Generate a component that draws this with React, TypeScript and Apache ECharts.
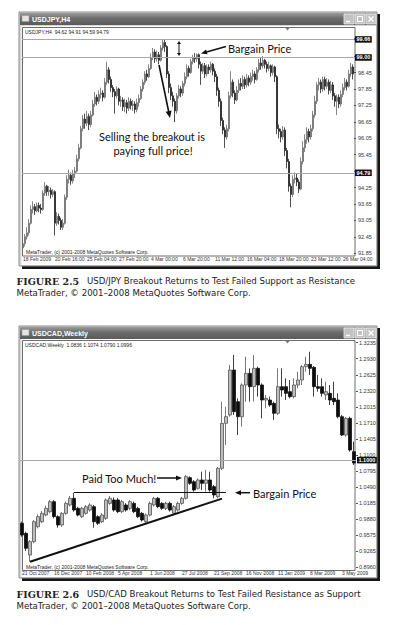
import React, { useEffect, useRef } from 'react';
import * as echarts from 'echarts';

// ---------- USD/JPY H4 ----------
const jpyDateLabels = ['18 Feb 2009', '20 Feb 16:00', '25 Feb 04:00', '27 Feb 20:00', '4 Mar 00:00', '6 Mar 20:00', '11 Mar 12:00', '16 Mar 04:00', '18 Mar 20:00', '23 Mar 12:00', '26 Mar 04:00'];
const jpyTickLabels = ['91.85', '92.45', '93.05', '93.65', '94.25', '94.85', '95.45', '96.05', '96.65', '97.25', '97.85', '98.45', '99.05', '99.65'];
// tick labels hidden behind the price boxes
const jpyCoveredTicks = ['94.85', '99.05', '99.65'];
const jpyLevels = [99.66, 99.0, 94.79];
// [open, close, low, high]
const jpyCandles = [
  [92.05, 92.2, 91.95, 92.3], [92.2, 92.45, 92.1, 92.55], [92.45, 92.6, 92.35, 92.8], [92.6, 92.95, 92.5, 93.1],
  [92.95, 93.45, 92.9, 93.6], [93.45, 93.55, 93.3, 93.75], [93.55, 93.4, 93.25, 93.65], [93.4, 93.6, 93.35, 93.7],
  [93.6, 93.5, 93.35, 93.7], [93.5, 93.45, 93.3, 93.65], [93.45, 94.05, 93.4, 94.15], [94.05, 94.3, 93.95, 94.45],
  [94.3, 94.1, 93.95, 94.35], [94.1, 94.15, 93.95, 94.3], [94.15, 94.0, 93.85, 94.25], [94.0, 94.1, 93.9, 94.2],
  [94.1, 92.95, 92.5, 94.15], [92.95, 93.2, 92.85, 93.35], [93.2, 93.05, 92.9, 93.3], [93.05, 92.8, 92.7, 93.15],
  [92.8, 92.95, 92.7, 93.1], [92.95, 93.9, 92.9, 94.0], [93.9, 94.55, 93.8, 94.7], [94.55, 94.7, 94.4, 94.9],
  [94.7, 94.5, 94.35, 94.8], [94.5, 94.75, 94.4, 94.9], [94.75, 94.85, 94.6, 95.0], [94.85, 95.3, 94.8, 95.45],
  [95.3, 95.7, 95.2, 95.85], [95.7, 96.4, 95.65, 96.5], [96.4, 96.75, 96.3, 96.9], [96.75, 96.6, 96.4, 96.95],
  [96.6, 96.85, 96.5, 97.05], [96.85, 96.55, 96.35, 96.95], [96.55, 96.9, 96.45, 97.05], [96.9, 97.3, 96.85, 97.45],
  [97.3, 97.55, 97.2, 97.75], [97.55, 97.4, 97.25, 97.65], [97.4, 97.65, 97.3, 97.8], [97.65, 97.7, 97.5, 97.9],
  [97.7, 97.55, 97.4, 97.8], [97.55, 98.1, 97.5, 98.25], [98.1, 98.55, 98.0, 98.85], [98.55, 98.2, 98.05, 98.65],
  [98.2, 97.9, 97.75, 98.3], [97.9, 97.75, 97.55, 98.0], [97.75, 97.6, 96.95, 97.85], [97.6, 97.85, 97.5, 97.95],
  [97.85, 97.4, 97.25, 97.9], [97.4, 97.45, 97.2, 97.6], [97.45, 97.2, 97.05, 97.55], [97.2, 97.35, 97.0, 97.5],
  [97.35, 97.15, 96.95, 97.45], [97.15, 97.4, 97.05, 97.55], [97.4, 97.25, 97.1, 97.5], [97.25, 97.3, 97.05, 97.45],
  [97.3, 97.1, 96.95, 97.4], [97.1, 97.35, 97.0, 97.5], [97.35, 97.5, 97.2, 97.65], [97.5, 97.85, 97.45, 97.95],
  [97.85, 98.1, 97.75, 98.2], [98.1, 98.4, 98.0, 98.5], [98.4, 98.3, 98.15, 98.55], [98.3, 98.6, 98.25, 98.75],
  [98.6, 99.0, 98.55, 99.15], [99.0, 99.2, 98.9, 99.35], [99.2, 98.95, 98.8, 99.3], [98.95, 99.1, 98.85, 99.25],
  [99.1, 98.9, 98.75, 99.2], [98.9, 99.35, 98.85, 99.45], [99.35, 99.55, 99.25, 99.66], [99.55, 99.4, 99.2, 99.64],
  [99.4, 98.4, 98.25, 99.45], [98.4, 97.9, 97.7, 98.5], [97.9, 97.6, 97.45, 98.05], [97.6, 97.4, 97.2, 97.75],
  [97.4, 97.05, 96.64, 97.5], [97.05, 97.6, 96.95, 97.7], [97.6, 97.85, 97.5, 98.0], [97.85, 97.7, 97.55, 97.95],
  [97.7, 98.05, 97.6, 98.15], [98.05, 98.3, 97.95, 98.45], [98.3, 98.6, 98.2, 98.75], [98.6, 98.45, 98.3, 98.7],
  [98.45, 98.85, 98.4, 98.95], [98.85, 99.0, 98.75, 99.1], [99.0, 98.95, 98.8, 99.16], [98.95, 99.1, 98.85, 99.15],
  [99.1, 98.75, 98.6, 99.15], [98.75, 98.5, 98.0, 98.85], [98.5, 98.7, 98.4, 98.8], [98.7, 98.4, 98.25, 98.8],
  [98.4, 98.65, 98.3, 98.75], [98.65, 98.55, 98.4, 98.75], [98.55, 98.75, 98.45, 98.85], [98.75, 98.5, 98.35, 98.8],
  [98.5, 98.3, 98.1, 98.6], [98.3, 97.8, 97.6, 98.4], [97.8, 97.4, 97.2, 97.9], [97.4, 96.7, 96.5, 97.5],
  [96.7, 96.35, 96.2, 96.8], [96.35, 96.1, 95.7, 96.45], [96.1, 96.4, 96.0, 96.55], [96.4, 97.6, 96.3, 97.75],
  [97.6, 98.1, 97.5, 98.5], [98.1, 97.7, 97.55, 98.2], [97.7, 97.45, 97.3, 97.8], [97.45, 97.8, 97.4, 97.95],
  [97.8, 98.05, 97.7, 98.2], [98.05, 97.95, 97.8, 98.25], [97.95, 98.2, 97.85, 98.35], [98.2, 98.0, 97.85, 98.3],
  [98.0, 98.25, 97.9, 98.4], [98.25, 98.1, 97.95, 98.35], [98.1, 98.3, 98.0, 98.45], [98.3, 98.4, 98.15, 98.55],
  [98.4, 98.2, 98.05, 98.5], [98.2, 98.55, 98.15, 98.65], [98.55, 98.8, 98.45, 98.95], [98.8, 98.7, 98.55, 99.0],
  [98.7, 98.9, 98.6, 99.05], [98.9, 98.75, 98.6, 98.95], [98.75, 98.6, 98.45, 98.85], [98.6, 98.7, 98.5, 98.85],
  [98.7, 98.45, 98.3, 98.75], [98.45, 98.65, 98.35, 98.75], [98.65, 98.3, 98.1, 98.7], [98.3, 96.4, 96.2, 98.35],
  [96.4, 96.3, 96.05, 96.55], [96.3, 96.1, 95.9, 96.4], [96.1, 96.35, 96.0, 96.5], [96.35, 95.6, 95.4, 96.45],
  [95.6, 95.2, 94.95, 95.7], [95.2, 94.3, 94.1, 95.3], [94.3, 94.0, 93.53, 94.4], [94.0, 94.55, 93.9, 94.7],
  [94.55, 94.6, 94.4, 94.8], [94.6, 94.45, 94.3, 94.75], [94.45, 94.2, 94.05, 94.55], [94.2, 95.2, 94.15, 95.35],
  [95.2, 95.7, 95.1, 95.95], [95.7, 96.0, 95.55, 96.2], [96.0, 96.3, 95.85, 96.45], [96.3, 96.1, 95.9, 96.4],
  [96.1, 96.4, 96.0, 96.55], [96.4, 96.9, 96.3, 97.05], [96.9, 97.4, 96.8, 97.6], [97.4, 98.0, 97.3, 98.1],
  [98.0, 98.1, 97.8, 98.25], [98.1, 97.85, 97.7, 98.2], [97.85, 98.2, 97.75, 98.3], [98.2, 97.95, 97.8, 98.3],
  [97.95, 98.1, 97.85, 98.25], [98.1, 97.8, 97.65, 98.2], [97.8, 98.0, 97.7, 98.15], [98.0, 97.6, 97.45, 98.1],
  [97.6, 97.4, 97.2, 97.7], [97.4, 97.55, 96.9, 97.65], [97.55, 97.3, 97.15, 97.65], [97.3, 97.65, 97.2, 97.8],
  [97.65, 97.9, 97.55, 98.05], [97.9, 98.1, 97.8, 98.25], [98.1, 97.95, 97.8, 98.2], [97.95, 98.4, 97.9, 98.55],
  [98.4, 98.65, 98.3, 98.8], [98.65, 98.4, 98.2, 98.75],
];

// ---------- USD/CAD Weekly ----------
const cadDateLabels = ['21 Oct 2007', '16 Dec 2007', '10 Feb 2008', '5 Apr 2008', '1 Jun 2008', '27 Jul 2008', '21 Sep 2008', '16 Nov 2008', '11 Jan 2009', '8 Mar 2009', '3 May 2009'];
const cadTickLabels = ['0.8960', '0.9265', '0.9575', '0.9880', '1.0185', '1.0490', '1.0795', '1.1100', '1.1405', '1.1710', '1.2015', '1.2320', '1.2625', '1.2930', '1.3235'];
const cadBid = 1.0996;
const cadBargainLine = [[13, 1.038], [51, 1.038]];
const cadTrendLine = [[2, 0.9067], [50, 1.0268]];
const cadCandles = [
  [0.9797, 0.9575, 0.9543, 0.9828], [0.9606, 0.9321, 0.927, 0.9638], [0.9194, 0.9448, 0.9067, 0.948], [0.9448, 0.9828, 0.9416, 0.986],
  [0.9733, 0.9924, 0.97, 0.9968], [0.9828, 0.9987, 0.98, 1.0032], [0.9955, 1.0082, 0.993, 1.0133], [1.0019, 1.0209, 0.9987, 1.0241],
  [1.0209, 0.9924, 0.9892, 1.0241], [0.9924, 0.9765, 0.9714, 0.995], [0.9765, 0.9987, 0.973, 1.001], [0.9987, 1.0177, 0.996, 1.021],
  [1.0146, 1.0273, 1.012, 1.0317], [1.0273, 1.005, 1.0019, 1.0381], [1.0082, 0.9955, 0.993, 1.011], [0.9924, 1.0082, 0.9895, 1.011],
  [0.9987, 1.0114, 0.996, 1.0145], [1.005, 1.0146, 1.002, 1.018], [1.0114, 0.9828, 0.9714, 1.0146], [0.9924, 0.9797, 0.9765, 0.995],
  [0.9828, 0.9955, 0.98, 0.999], [0.9892, 1.0241, 0.986, 1.0273], [1.0177, 1.0273, 1.015, 1.0317], [1.0241, 1.005, 1.002, 1.029],
  [1.0241, 1.0019, 0.999, 1.028], [1.0019, 1.0209, 0.999, 1.024], [1.0146, 1.005, 1.002, 1.018], [1.0082, 1.0209, 1.005, 1.024],
  [1.0177, 1.0019, 0.999, 1.021], [1.0082, 0.9924, 0.9895, 1.011], [0.9987, 0.986, 0.983, 1.0015], [0.9828, 0.9955, 0.98, 0.9985],
  [0.9955, 1.0177, 0.993, 1.021], [1.0146, 1.0273, 1.0115, 1.03], [1.0273, 1.0114, 1.0085, 1.03], [1.0177, 1.0082, 1.005, 1.02],
  [1.0082, 1.0177, 1.005, 1.021], [1.0177, 1.005, 1.002, 1.021], [0.9987, 1.0114, 0.996, 1.0145], [1.005, 1.0177, 1.002, 1.021],
  [1.0177, 1.0273, 1.015, 1.03], [1.0273, 1.0685, 1.025, 1.0717], [1.0666, 1.0558, 1.053, 1.069], [1.059, 1.0431, 1.04, 1.062],
  [1.0463, 1.0622, 1.044, 1.065], [1.0622, 1.0558, 1.0431, 1.078], [1.0558, 1.0622, 1.0399, 1.0812], [1.0622, 1.0431, 1.04, 1.078],
  [1.0495, 1.0336, 1.0273, 1.0527], [1.0304, 1.0844, 1.0273, 1.087], [1.0844, 1.17, 1.0812, 1.2113], [1.17, 1.1827, 1.1288, 1.2017],
  [1.1859, 1.2715, 1.1827, 1.2811], [1.2715, 1.1922, 1.1859, 1.3001], [1.2113, 1.1827, 1.1478, 1.2176], [1.1827, 1.243, 1.1637, 1.246],
  [1.243, 1.2652, 1.2113, 1.2969], [1.2652, 1.2398, 1.2113, 1.2747], [1.2398, 1.2747, 1.2113, 1.3001], [1.2747, 1.243, 1.2208, 1.278],
  [1.243, 1.2144, 1.1795, 1.246], [1.2144, 1.2176, 1.1986, 1.224], [1.2144, 1.2049, 1.2017, 1.2208], [1.2081, 1.1891, 1.1764, 1.2113],
  [1.1891, 1.2398, 1.1859, 1.2747], [1.2398, 1.2335, 1.2208, 1.2747], [1.2398, 1.2271, 1.2144, 1.2557], [1.2303, 1.2208, 1.2176, 1.2525],
  [1.2208, 1.243, 1.2176, 1.2557], [1.243, 1.2525, 1.2366, 1.2684], [1.2525, 1.2779, 1.243, 1.2811], [1.2779, 1.2823, 1.2684, 1.2969],
  [1.2823, 1.2747, 1.262, 1.3064], [1.2766, 1.2398, 1.2208, 1.279], [1.2398, 1.2366, 1.2303, 1.262], [1.2398, 1.2271, 1.2208, 1.2557],
  [1.224, 1.2303, 1.2144, 1.2493], [1.2271, 1.2144, 1.2049, 1.243], [1.2176, 1.2113, 1.2049, 1.2493], [1.2144, 1.1827, 1.1795, 1.2271],
  [1.1827, 1.1478, 1.146, 1.1859], [1.1478, 1.1795, 1.1446, 1.182], [1.1795, 1.1193, 1.1161, 1.1827], [1.1161, 1.0945, 1.0907, 1.1351],
];

const INK = '#111';
const SMALL = 'Liberation Sans';

function arrow(x1: number, y1: number, x2: number, y2: number, lw: number, len: number, half: number, both = false): any[] {
  const dx = x2 - x1, dy = y2 - y1;
  const d = Math.sqrt(dx * dx + dy * dy);
  const ux = dx / d, uy = dy / d;
  const px = -uy, py = ux;
  const head = (tx: number, ty: number, sx: number, sy: number) => ({
    type: 'polygon', z: 50,
    shape: { points: [[tx, ty], [tx - sx * len + px * half, ty - sy * len + py * half], [tx - sx * len - px * half, ty - sy * len - py * half]] },
    style: { fill: INK },
  });
  const els: any[] = [
    { type: 'line', z: 50, shape: { x1: both ? x1 + ux * len * 0.8 : x1, y1: both ? y1 + uy * len * 0.8 : y1, x2: x2 - ux * len * 0.8, y2: y2 - uy * len * 0.8 }, style: { stroke: INK, lineWidth: lw } },
    head(x2, y2, ux, uy),
  ];
  if (both) els.push(head(x1, y1, -ux, -uy));
  return els;
}

function txt(x: number, y: number, text: string, font: string, fill = INK, align = 'left'): any {
  return { type: 'text', z: 50, x, y, style: { text, font, fill, textAlign: align, textVerticalAlign: 'middle' } };
}

function windowEls(y0: number, y1: number, plotTop: number, plotBottom: number, title: string, header: string): any[] {
  const x0 = 19, x1 = 377;
  const bx = [344, 355, 366];
  const by = y0 + 2;
  return [
    { type: 'rect', z: -20, shape: { x: x0 + 3, y: y0 + 2, width: x1 - x0, height: y1 - y0 + 1 }, style: { fill: '#161616' } },
    { type: 'rect', z: -19, shape: { x: x0, y: y0, width: x1 - x0, height: y1 - y0 }, style: { fill: '#d8d8d8', stroke: '#8c8c8c', lineWidth: 1 } },
    {
      type: 'rect', z: -18, shape: { x: x0 + 1, y: y0 + 1, width: x1 - x0 - 2, height: 12 },
      style: { fill: new echarts.graphic.LinearGradient(0, 0, 0, 1, [{ offset: 0, color: '#9a9a9a' }, { offset: 0.45, color: '#6c6c6c' }, { offset: 1, color: '#5a5a5a' }]) },
    },
    { type: 'rect', z: -18, shape: { x: 21.5, y: plotTop - 1, width: x1 - 22.5, height: y1 - plotTop }, style: { fill: '#ffffff' } },
    { type: 'rect', z: -17, shape: { x: 22.5, y: plotTop + 0.5, width: 332.5, height: plotBottom - plotTop }, style: { fill: 'none', stroke: '#6e6e6e', lineWidth: 1 } },
    { type: 'rect', z: -16, shape: { x: 22, y: y0 + 3.5, width: 7, height: 6 }, style: { fill: '#e4e4e4', stroke: '#9a9a9a', lineWidth: 0.6 } },
    { type: 'text', z: -16, x: 32, y: y0 + 7, style: { text: title, font: 'bold 7px ' + SMALL, fill: '#ffffff', textVerticalAlign: 'middle' } },
    ...bx.map((x) => ({ type: 'rect', z: -16, shape: { x, y: by, width: 10, height: 10 }, style: { fill: '#c2c2c2', stroke: '#eeeeee', lineWidth: 0.8 } })),
    { type: 'line', z: -15, shape: { x1: bx[0] + 2, y1: by + 7.5, x2: bx[0] + 6, y2: by + 7.5 }, style: { stroke: '#fff', lineWidth: 1.5 } },
    { type: 'rect', z: -15, shape: { x: bx[1] + 2.5, y: by + 2.5, width: 5, height: 5 }, style: { fill: 'none', stroke: '#fff', lineWidth: 1 } },
    { type: 'line', z: -15, shape: { x1: bx[2] + 2.5, y1: by + 2.5, x2: bx[2] + 7.5, y2: by + 7.5 }, style: { stroke: '#fff', lineWidth: 1.5 } },
    { type: 'line', z: -15, shape: { x1: bx[2] + 7.5, y1: by + 2.5, x2: bx[2] + 2.5, y2: by + 7.5 }, style: { stroke: '#fff', lineWidth: 1.5 } },
    { type: 'text', z: -15, x: 25, y: plotTop + 4.5, style: { text: header, font: '5px ' + SMALL, fill: '#222', textVerticalAlign: 'middle' } },
    { type: 'text', z: -15, x: 26, y: plotBottom - 3.5, style: { text: 'MetaTrader, (c) 2001-2008 MetaQuotes Software Corp.', font: '5px ' + SMALL, fill: '#222', textVerticalAlign: 'middle' } },
    { type: 'polygon', z: -15, shape: { points: [[285.5, plotTop + 1], [289.5, plotTop + 1], [287.5, plotTop + 3.5]] }, style: { fill: '#777' } },
  ];
}

const ANN = '11px Lato';
const CAP = '8.6px DejaVu Sans';
const FIG = 'bold 9.5px DejaVu Serif';

function tickFormatter(labels: string[], min: number, step: number, skip: string[] = []) {
  return (v: number) => {
    const k = (v - min) / step;
    const r = Math.round(k);
    if (Math.abs(k - r) > 0.02) return '';
    const s = labels[r] ?? '';
    return skip.includes(s) ? '' : s;
  };
}

export default function App() {
  const ref = useRef<HTMLDivElement>(null);
  useEffect(() => {
    if (!ref.current) return;
    const chart = echarts.init(ref.current, undefined, { renderer: 'svg' });
    const jpyCats = jpyCandles.map((_, i) => String(i));
    const cadCats = cadCandles.map((_, i) => String(i));
    const axisLabelBase = { fontSize: 5.5, fontFamily: SMALL, color: '#333', lineHeight: 5 };
    const boxLabel = (digits: number) => ({
      show: true, position: 'end', distance: 1, formatter: (p: any) => Number(p.value).toFixed(digits),
      backgroundColor: '#111', color: '#fff', fontSize: 5.5, lineHeight: 5.5, fontFamily: SMALL, fontWeight: 'bold', padding: [0.5, 1.5],
    });

    const option: any = {
      animation: false,
      grid: [
        { left: 22, top: 38.33, width: 332, height: 214.97 },
        { left: 20, top: 342.7, width: 336, height: 224.6 },
      ],
      xAxis: [
        {
          type: 'category', gridIndex: 0, data: jpyCats, boundaryGap: true,
          axisLine: { show: false }, axisTick: { show: false }, splitLine: { show: false },
          axisLabel: { ...axisLabelBase, fontSize: 5, interval: 15, align: 'left', margin: 3.5, formatter: (_v: any, i: number) => jpyDateLabels[i / 16] ?? '' },
        },
        {
          type: 'category', gridIndex: 1, data: cadCats, boundaryGap: true,
          axisLine: { show: false }, axisTick: { show: false }, splitLine: { show: false },
          axisLabel: { ...axisLabelBase, fontSize: 5, interval: 7, align: 'left', margin: 3.5, formatter: (_v: any, i: number) => cadDateLabels[i / 8] ?? '' },
        },
      ],
      yAxis: [
        {
          type: 'value', gridIndex: 0, position: 'right', min: 91.85, max: 99.7, interval: 0.6, scale: true,
          axisLine: { show: false }, splitLine: { show: false },
          axisTick: { show: true, length: 2, lineStyle: { color: '#555' } },
          axisLabel: { ...axisLabelBase, margin: 4, formatter: tickFormatter(jpyTickLabels, 91.85, 0.6, jpyCoveredTicks) },
        },
        {
          type: 'value', gridIndex: 1, position: 'right', min: 0.896, max: 1.3235, interval: 0.0305357, scale: true,
          axisLine: { show: false }, splitLine: { show: false },
          axisTick: { show: true, length: 2, lineStyle: { color: '#555' } },
          axisLabel: { ...axisLabelBase, margin: 3, formatter: tickFormatter(cadTickLabels, 0.896, 0.0305357) },
        },
      ],
      series: [
        {
          type: 'candlestick', xAxisIndex: 0, yAxisIndex: 0, data: jpyCandles, barWidth: 1.6,
          itemStyle: { color: '#9a9a9a', color0: '#0d0d0d', borderColor: '#6a6a6a', borderColor0: '#222', borderWidth: 0.8 },
          markLine: {
            silent: true, symbol: ['none', 'none'], animation: false,
            lineStyle: { color: '#a8a8a8', width: 1, type: 'solid' },
            label: boxLabel(2),
            data: jpyLevels.map((v) => ({ yAxis: v })),
          },
        },
        {
          type: 'candlestick', xAxisIndex: 1, yAxisIndex: 1, data: cadCandles, barWidth: 3,
          itemStyle: { color: '#bdbdbd', color0: '#0d0d0d', borderColor: '#555', borderColor0: '#111', borderWidth: 0.8 },
          markLine: {
            silent: true, symbol: ['none', 'none'], animation: false,
            lineStyle: { color: '#a8a8a8', width: 1, type: 'solid' },
            label: boxLabel(4),
            data: [
              { yAxis: cadBid },
              [{ coord: cadBargainLine[0] }, { coord: cadBargainLine[1], lineStyle: { color: INK, width: 1.2 }, label: { show: false } }],
              [{ coord: cadTrendLine[0] }, { coord: cadTrendLine[1], lineStyle: { color: INK, width: 2 }, label: { show: false } }],
            ],
          },
        },
      ],
      graphic: {
        elements: [
          ...windowEls(12, 266, 27, 255.5, 'USDJPY,H4', 'USDJPY,H4  94.62 94.91 94.59 94.79'),
          ...windowEls(326, 578, 340, 570, 'USDCAD,Weekly', 'USDCAD,Weekly  1.0836 1.1074 1.0790 1.0996'),
          // top annotations
          ...arrow(179, 41, 179, 56, 1, 3, 2, true),
          ...arrow(226, 46.5, 201, 53.5, 1.5, 6, 2.5),
          ...arrow(159, 65, 170, 118, 1.6, 7, 3),
          txt(228, 48, 'Bargain Price', ANN),
          txt(152, 136.5, 'Selling the breakout is', ANN, INK, 'center'),
          txt(153, 150, 'paying full price!', ANN, INK, 'center'),
          // bottom annotations
          ...arrow(157, 478, 182, 478, 1.5, 6, 2.5),
          ...arrow(250, 492.7, 235, 492.7, 1.5, 6, 2.5),
          txt(82, 478, 'Paid Too Much!', ANN),
          txt(253, 493, 'Bargain Price', ANN),
          // captions
          txt(16.5, 281, 'FIGURE 2.5', FIG, '#222'),
          txt(87, 281, 'USD/JPY Breakout Returns to Test Failed Support as Resistance', CAP, '#222'),
          txt(16.5, 292.7, 'MetaTrader, © 2001–2008 MetaQuotes Software Corp.', CAP, '#222'),
          txt(16.5, 594.3, 'FIGURE 2.6', FIG, '#222'),
          txt(87, 594.3, 'USD/CAD Breakout Returns to Test Failed Resistance as Support', CAP, '#222'),
          txt(16.5, 605.7, 'MetaTrader, © 2001–2008 MetaQuotes Software Corp.', CAP, '#222'),
        ],
      },
    };
    chart.setOption(option);
    return () => chart.dispose();
  }, []);
  return <div ref={ref} style={{ position: 'absolute', left: 0, top: 0, width: 404, height: 625 }} />;
}
